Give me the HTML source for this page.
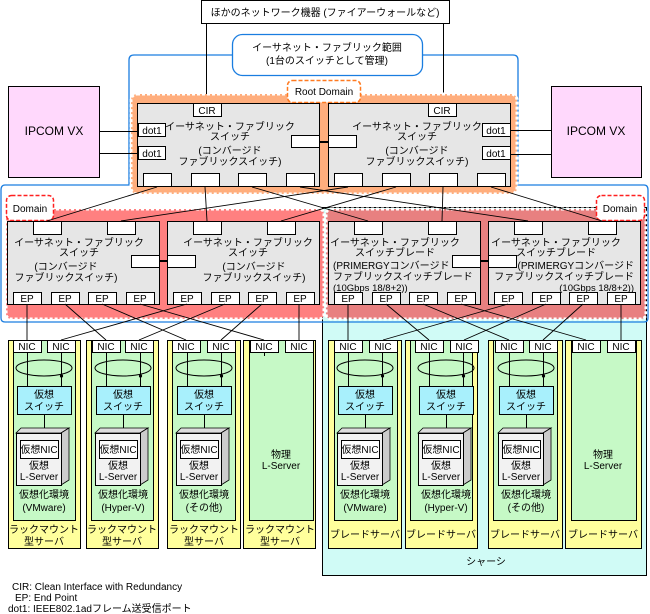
<!DOCTYPE html>
<html><head><meta charset="utf-8"><style>
html,body{margin:0;padding:0;background:#fff}
svg{display:block}
text{font-family:"Liberation Sans","Noto Sans CJK JP",sans-serif;font-size:10px;fill:#000}
</style></head><body>
<svg width="650" height="614" viewBox="0 0 650 614" xmlns="http://www.w3.org/2000/svg">
<!-- chassis -->
<rect x="322.5" y="207.5" width="324" height="368" fill="#d0fbf6" stroke="#000"/>
<!-- blue fabric range -->
<path d="M232,55 H134 Q129,55 129,60 V185 H5 Q1,185 1,190 V318 Q1,322 5,322 H644 Q648,322 648,318 V190 Q648,185 644,185 H518 V60 Q518,55 513,55 H422" fill="none" stroke="#1a7de0" stroke-width="1.3"/>
<!-- top box -->
<rect x="201.5" y="0.5" width="248" height="23" fill="#fff" stroke="#000"/>
<text x="325" y="16" text-anchor="middle">ほかのネットワーク機器 (ファイアーウォールなど)</text>
<line x1="206.5" y1="23" x2="206.5" y2="103" stroke="#000"/>
<line x1="443.5" y1="23" x2="443.5" y2="103" stroke="#000"/>
<!-- cloud label -->
<rect x="232.5" y="34.5" width="190" height="41" rx="10" fill="#fff" stroke="#1a7de0" stroke-width="1.3"/>
<text x="327" y="51" text-anchor="middle">イーサネット・ファブリック範囲</text>
<text x="327" y="64" text-anchor="middle">(1台のスイッチとして管理)</text>
<!-- root domain -->
<rect x="131" y="94" width="386" height="100" rx="6" fill="#ffae7d" stroke="#fff" stroke-width="3" stroke-dasharray="3 2"/>
<rect x="287.5" y="80.5" width="73" height="22" rx="5" fill="#fff" stroke="#ff7a20" stroke-width="1.5" stroke-dasharray="4 2"/>
<text x="324" y="95" text-anchor="middle">Root Domain</text>
<!-- IPCOM -->
<rect x="8.5" y="86.5" width="91" height="91" fill="#ffd8fc" stroke="#000"/>
<text x="54" y="135" text-anchor="middle" style="font-size:12px">IPCOM VX</text>
<rect x="551.5" y="86.5" width="90" height="91" fill="#ffd8fc" stroke="#000"/>
<text x="596" y="135" text-anchor="middle" style="font-size:12px">IPCOM VX</text>
<g stroke="#000"><line x1="99" y1="131.5" x2="138" y2="131.5"/><line x1="99" y1="153.5" x2="138" y2="153.5"/><line x1="510" y1="130.5" x2="551" y2="130.5"/><line x1="510" y1="154.5" x2="551" y2="154.5"/></g>
<!-- top switches -->
<g stroke="#000" fill="#fff">
<rect x="137.5" y="103.5" width="182" height="83" fill="#e6e6e6"/>
<rect x="328.5" y="103.5" width="182" height="83" fill="#e6e6e6"/>
<rect x="193.5" y="103.5" width="28" height="13"/>
<rect x="428.5" y="103.5" width="28" height="13"/>
<rect x="138.5" y="123.5" width="27" height="13"/><rect x="138.5" y="146.5" width="27" height="13"/>
<rect x="482.5" y="123.5" width="28" height="13"/><rect x="482.5" y="146.5" width="28" height="13"/>
<rect x="291.5" y="135.5" width="28" height="12"/><rect x="328.5" y="135.5" width="28" height="12"/>
<rect x="143.5" y="173.5" width="28" height="13"/><rect x="191.5" y="173.5" width="28" height="13"/><rect x="238.5" y="173.5" width="28" height="13"/><rect x="286.5" y="173.5" width="28" height="13"/>
<rect x="334.5" y="173.5" width="28" height="13"/><rect x="382.5" y="173.5" width="28" height="13"/><rect x="429.5" y="173.5" width="28" height="13"/><rect x="477.5" y="173.5" width="28" height="13"/>
</g>
<line x1="319" y1="142" x2="328" y2="142" stroke="#000" stroke-width="2"/>
<text x="207" y="114" text-anchor="middle">CIR</text><text x="442" y="114" text-anchor="middle">CIR</text>
<text x="152" y="134" text-anchor="middle">dot1</text><text x="152" y="157" text-anchor="middle">dot1</text>
<text x="496" y="134" text-anchor="middle">dot1</text><text x="496" y="157" text-anchor="middle">dot1</text>
<g text-anchor="middle">
<text x="230" y="130">イーサネット・ファブリック</text><text x="230" y="140">スイッチ</text><text x="230" y="154">(コンバージド</text><text x="230" y="165">ファブリックスイッチ)</text>
<text x="417" y="130">イーサネット・ファブリック</text><text x="417" y="140">スイッチ</text><text x="417" y="154">(コンバージド</text><text x="417" y="165">ファブリックスイッチ)</text>
</g>
<!-- domains -->
<rect x="6" y="209" width="318" height="110" rx="5" fill="#ff8080" stroke="#fff" stroke-width="3" stroke-dasharray="3 2"/>
<rect x="326" y="209" width="320" height="110" rx="5" fill="#e88080" stroke="#fff" stroke-width="3" stroke-dasharray="3 2"/>
<rect x="6.5" y="195.5" width="47" height="25" rx="5" fill="#fff" stroke="#ff2020" stroke-width="1.5" stroke-dasharray="4 2"/>
<text x="30" y="212" text-anchor="middle">Domain</text>
<rect x="596.5" y="195.5" width="48" height="25" rx="5" fill="#fff" stroke="#ff2020" stroke-width="1.5" stroke-dasharray="4 2"/>
<text x="620" y="212" text-anchor="middle">Domain</text>
<!-- links top->domain -->
<g stroke="#000" stroke-width="0.9">
<line x1="157" y1="187" x2="47" y2="221"/><line x1="205" y1="187" x2="207" y2="221"/><line x1="252" y1="187" x2="368" y2="221"/><line x1="300" y1="187" x2="528" y2="221"/>
<line x1="348" y1="187" x2="121" y2="221"/><line x1="396" y1="187" x2="281" y2="221"/><line x1="443" y1="187" x2="442" y2="221"/><line x1="491" y1="187" x2="602" y2="221"/>
</g>
<!-- domain switches -->
<g stroke="#000" fill="#fff">
<rect x="7.5" y="221.5" width="152" height="83" fill="#e6e6e6"/>
<rect x="167.5" y="221.5" width="152" height="83" fill="#e6e6e6"/>
<rect x="328.5" y="221.5" width="152" height="83" fill="#e6e6e6"/>
<rect x="488.5" y="221.5" width="152" height="83" fill="#e6e6e6"/>
<rect x="33.5" y="221.5" width="28" height="13"/><rect x="107.5" y="221.5" width="28" height="13"/>
<rect x="193.5" y="221.5" width="28" height="13"/><rect x="267.5" y="221.5" width="28" height="13"/>
<rect x="354.5" y="221.5" width="28" height="13"/><rect x="428.5" y="221.5" width="28" height="13"/>
<rect x="514.5" y="221.5" width="28" height="13"/><rect x="588.5" y="221.5" width="28" height="13"/>
<rect x="131.5" y="255.5" width="28" height="12"/><rect x="167.5" y="255.5" width="28" height="12"/>
<rect x="452.5" y="255.5" width="28" height="12"/><rect x="488.5" y="255.5" width="28" height="12"/>
<rect x="13.5" y="292.5" width="28" height="12"/><rect x="51.5" y="292.5" width="28" height="12"/><rect x="88.5" y="292.5" width="28" height="12"/><rect x="126.5" y="292.5" width="28" height="12"/>
<rect x="173.5" y="292.5" width="28" height="12"/><rect x="211.5" y="292.5" width="28" height="12"/><rect x="248.5" y="292.5" width="28" height="12"/><rect x="286.5" y="292.5" width="28" height="12"/>
<rect x="334.5" y="292.5" width="28" height="12"/><rect x="372.5" y="292.5" width="28" height="12"/><rect x="409.5" y="292.5" width="28" height="12"/><rect x="447.5" y="292.5" width="28" height="12"/>
<rect x="494.5" y="292.5" width="28" height="12"/><rect x="532.5" y="292.5" width="28" height="12"/><rect x="569.5" y="292.5" width="28" height="12"/><rect x="607.5" y="292.5" width="28" height="12"/>
</g>
<line x1="159" y1="261" x2="167" y2="261" stroke="#000" stroke-width="2"/>
<line x1="480" y1="261" x2="488" y2="261" stroke="#000" stroke-width="2"/>
<g text-anchor="middle">
<text x="27" y="302">EP</text><text x="65" y="302">EP</text><text x="102" y="302">EP</text><text x="140" y="302">EP</text>
<text x="187" y="302">EP</text><text x="225" y="302">EP</text><text x="262" y="302">EP</text><text x="300" y="302">EP</text>
<text x="348" y="302">EP</text><text x="386" y="302">EP</text><text x="423" y="302">EP</text><text x="461" y="302">EP</text>
<text x="508" y="302">EP</text><text x="546" y="302">EP</text><text x="583" y="302">EP</text><text x="621" y="302">EP</text>
<text x="79" y="246">イーサネット・ファブリック</text><text x="79" y="256">スイッチ</text><text x="66" y="270">(コンバージド</text><text x="66" y="281">ファブリックスイッチ)</text>
<text x="248" y="246">イーサネット・ファブリック</text><text x="248" y="256">スイッチ</text><text x="254" y="270">(コンバージド</text><text x="254" y="281">ファブリックスイッチ)</text>
<text x="395" y="246">イーサネット・ファブリック</text><text x="395" y="256">スイッチブレード</text>
<text x="556" y="246">イーサネット・ファブリック</text><text x="556" y="256">スイッチブレード</text>
</g>
<text x="333" y="269">(PRIMERGYコンバージド</text><text x="333" y="280">ファブリックスイッチブレード</text><text x="333" y="291" style="font-size:9.5px">(10Gbps 18/8+2))</text>
<g text-anchor="end"><text x="634" y="269">(PRIMERGYコンバージド</text><text x="634" y="280">ファブリックスイッチブレード</text><text x="634" y="291" style="font-size:9.5px">(10Gbps 18/8+2))</text></g>
<!-- EP->NIC -->
<g stroke="#000" stroke-width="0.9">
<line x1="27" y1="304" x2="27" y2="340"/><line x1="65" y1="304" x2="106" y2="340"/><line x1="102" y1="304" x2="186" y2="340"/><line x1="140" y1="304" x2="264" y2="340"/>
<line x1="187" y1="304" x2="61" y2="340"/><line x1="225" y1="304" x2="139" y2="340"/><line x1="262" y1="304" x2="221" y2="340"/><line x1="299" y1="304" x2="299" y2="340"/>
<line x1="348" y1="304" x2="348" y2="340"/><line x1="386" y1="304" x2="429" y2="340"/><line x1="423" y1="304" x2="509" y2="340"/><line x1="461" y1="304" x2="586" y2="340"/>
<line x1="508" y1="304" x2="383" y2="340"/><line x1="546" y1="304" x2="464" y2="340"/><line x1="583" y1="304" x2="543" y2="340"/><line x1="621" y1="304" x2="621" y2="340"/>
</g>
<!-- server columns -->
<g id="cols" stroke="#000">
<!-- generic column: yellow, green -->
<rect x="8.5" y="340.5" width="72" height="208" fill="#ffff9c"/><rect x="13.5" y="340.5" width="62" height="180" fill="#c6f9c6"/>
<rect x="86.5" y="340.5" width="72" height="208" fill="#ffff9c"/><rect x="91.5" y="340.5" width="62" height="180" fill="#c6f9c6"/>
<rect x="167.5" y="340.5" width="73" height="208" fill="#ffff9c"/><rect x="172.5" y="340.5" width="63" height="180" fill="#c6f9c6"/>
<rect x="243.5" y="340.5" width="72" height="208" fill="#ffff9c"/><rect x="249.5" y="340.5" width="64" height="180" fill="#c6f9c6"/>
<rect x="328.5" y="340.5" width="73" height="208" fill="#ffff9c"/><rect x="334.5" y="340.5" width="63" height="180" fill="#c6f9c6"/>
<rect x="405.5" y="340.5" width="72" height="208" fill="#ffff9c"/><rect x="410.5" y="340.5" width="62" height="180" fill="#c6f9c6"/>
<rect x="488.5" y="340.5" width="74" height="208" fill="#ffff9c"/><rect x="493.5" y="340.5" width="64" height="180" fill="#c6f9c6"/>
<rect x="565.5" y="340.5" width="76" height="208" fill="#ffff9c"/><rect x="571.5" y="340.5" width="65" height="180" fill="#c6f9c6"/>
<!-- NICs -->
<g fill="#fff">
<rect x="13.5" y="340.5" width="28" height="12"/><rect x="47.5" y="340.5" width="28" height="12"/>
<rect x="92.5" y="340.5" width="28" height="12"/><rect x="125.5" y="340.5" width="28" height="12"/>
<rect x="172.5" y="340.5" width="28" height="12"/><rect x="207.5" y="340.5" width="28" height="12"/>
<rect x="250.5" y="340.5" width="28" height="12"/><rect x="285.5" y="340.5" width="28" height="12"/>
<rect x="334.5" y="340.5" width="28" height="12"/><rect x="369.5" y="340.5" width="28" height="12"/>
<rect x="415.5" y="340.5" width="28" height="12"/><rect x="450.5" y="340.5" width="28" height="12"/>
<rect x="495.5" y="340.5" width="28" height="12"/><rect x="529.5" y="340.5" width="28" height="12"/>
<rect x="572.5" y="340.5" width="28" height="12"/><rect x="607.5" y="340.5" width="28" height="12"/>
</g>
</g>
<g text-anchor="middle">
<text x="27" y="350">NIC</text><text x="61" y="350">NIC</text><text x="106" y="350">NIC</text><text x="139" y="350">NIC</text>
<text x="186" y="350">NIC</text><text x="221" y="350">NIC</text><text x="264" y="350">NIC</text><text x="299" y="350">NIC</text>
<text x="348" y="350">NIC</text><text x="383" y="350">NIC</text><text x="429" y="350">NIC</text><text x="464" y="350">NIC</text>
<text x="509" y="350">NIC</text><text x="543" y="350">NIC</text><text x="586" y="350">NIC</text><text x="621" y="350">NIC</text>
</g>
<!-- virtual blocks: offsets at 8, 86, 167, 328, 405, 488 -->
<g id="v1" transform="translate(0,0)">
<line x1="27.5" y1="352" x2="27.5" y2="386" stroke="#000"/><line x1="61.5" y1="352" x2="61.5" y2="386" stroke="#000"/>
<ellipse cx="44" cy="368" rx="28" ry="8" fill="none" stroke="#000"/><circle cx="61.5" cy="376" r="1.6"/>
<rect x="17.5" y="386.5" width="54" height="28" fill="#a8f0fc" stroke="#000"/>
<line x1="44.5" y1="414" x2="44.5" y2="430" stroke="#000"/>
<polygon points="16,433 21,428 69,428 61,433" fill="#ddd" stroke="#000" stroke-width="0.8"/>
<polygon points="61,433 69,428 69,480 61,485" fill="#ccc" stroke="#000" stroke-width="0.8"/>
<rect x="16.5" y="433.5" width="45" height="52" fill="#f2f2f2" stroke="#000"/>
<rect x="20.5" y="440.5" width="38" height="18" fill="#fff" stroke="#000"/>
</g>
<g transform="translate(79,0)">
<line x1="27.5" y1="352" x2="27.5" y2="386" stroke="#000"/><line x1="61.5" y1="352" x2="61.5" y2="386" stroke="#000"/>
<ellipse cx="44" cy="368" rx="28" ry="8" fill="none" stroke="#000"/><circle cx="61.5" cy="376" r="1.6"/>
<rect x="17.5" y="386.5" width="54" height="28" fill="#a8f0fc" stroke="#000"/>
<line x1="44.5" y1="414" x2="44.5" y2="430" stroke="#000"/>
<polygon points="16,433 21,428 69,428 61,433" fill="#ddd" stroke="#000" stroke-width="0.8"/>
<polygon points="61,433 69,428 69,480 61,485" fill="#ccc" stroke="#000" stroke-width="0.8"/>
<rect x="16.5" y="433.5" width="45" height="52" fill="#f2f2f2" stroke="#000"/>
<rect x="20.5" y="440.5" width="38" height="18" fill="#fff" stroke="#000"/>
</g>
<g transform="translate(160,0)">
<line x1="27.5" y1="352" x2="27.5" y2="386" stroke="#000"/><line x1="61.5" y1="352" x2="61.5" y2="386" stroke="#000"/>
<ellipse cx="44" cy="368" rx="28" ry="8" fill="none" stroke="#000"/><circle cx="61.5" cy="376" r="1.6"/>
<rect x="17.5" y="386.5" width="54" height="28" fill="#a8f0fc" stroke="#000"/>
<line x1="44.5" y1="414" x2="44.5" y2="430" stroke="#000"/>
<polygon points="16,433 21,428 69,428 61,433" fill="#ddd" stroke="#000" stroke-width="0.8"/>
<polygon points="61,433 69,428 69,480 61,485" fill="#ccc" stroke="#000" stroke-width="0.8"/>
<rect x="16.5" y="433.5" width="45" height="52" fill="#f2f2f2" stroke="#000"/>
<rect x="20.5" y="440.5" width="38" height="18" fill="#fff" stroke="#000"/>
</g>
<g transform="translate(321,0)">
<line x1="27.5" y1="352" x2="27.5" y2="386" stroke="#000"/><line x1="61.5" y1="352" x2="61.5" y2="386" stroke="#000"/>
<ellipse cx="44" cy="368" rx="28" ry="8" fill="none" stroke="#000"/><circle cx="61.5" cy="376" r="1.6"/>
<rect x="17.5" y="386.5" width="54" height="28" fill="#a8f0fc" stroke="#000"/>
<line x1="44.5" y1="414" x2="44.5" y2="430" stroke="#000"/>
<polygon points="16,433 21,428 69,428 61,433" fill="#ddd" stroke="#000" stroke-width="0.8"/>
<polygon points="61,433 69,428 69,480 61,485" fill="#ccc" stroke="#000" stroke-width="0.8"/>
<rect x="16.5" y="433.5" width="45" height="52" fill="#f2f2f2" stroke="#000"/>
<rect x="20.5" y="440.5" width="38" height="18" fill="#fff" stroke="#000"/>
</g>
<g transform="translate(402,0)">
<line x1="27.5" y1="352" x2="27.5" y2="386" stroke="#000"/><line x1="61.5" y1="352" x2="61.5" y2="386" stroke="#000"/>
<ellipse cx="44" cy="368" rx="28" ry="8" fill="none" stroke="#000"/><circle cx="61.5" cy="376" r="1.6"/>
<rect x="17.5" y="386.5" width="54" height="28" fill="#a8f0fc" stroke="#000"/>
<line x1="44.5" y1="414" x2="44.5" y2="430" stroke="#000"/>
<polygon points="16,433 21,428 69,428 61,433" fill="#ddd" stroke="#000" stroke-width="0.8"/>
<polygon points="61,433 69,428 69,480 61,485" fill="#ccc" stroke="#000" stroke-width="0.8"/>
<rect x="16.5" y="433.5" width="45" height="52" fill="#f2f2f2" stroke="#000"/>
<rect x="20.5" y="440.5" width="38" height="18" fill="#fff" stroke="#000"/>
</g>
<g transform="translate(482,0)">
<line x1="27.5" y1="352" x2="27.5" y2="386" stroke="#000"/><line x1="61.5" y1="352" x2="61.5" y2="386" stroke="#000"/>
<ellipse cx="44" cy="368" rx="28" ry="8" fill="none" stroke="#000"/><circle cx="61.5" cy="376" r="1.6"/>
<rect x="17.5" y="386.5" width="54" height="28" fill="#a8f0fc" stroke="#000"/>
<line x1="44.5" y1="414" x2="44.5" y2="430" stroke="#000"/>
<polygon points="16,433 21,428 69,428 61,433" fill="#ddd" stroke="#000" stroke-width="0.8"/>
<polygon points="61,433 69,428 69,480 61,485" fill="#ccc" stroke="#000" stroke-width="0.8"/>
<rect x="16.5" y="433.5" width="45" height="52" fill="#f2f2f2" stroke="#000"/>
<rect x="20.5" y="440.5" width="38" height="18" fill="#fff" stroke="#000"/>
</g>
<!-- physical NIC lines -->
<g stroke="#000"><line x1="264.5" y1="352" x2="264.5" y2="356"/></g>
<!-- texts in columns -->
<g text-anchor="middle">
<text x="44" y="398">仮想</text><text x="44" y="410">スイッチ</text><text x="39" y="453">仮想NIC</text><text x="39" y="469">仮想</text><text x="39" y="480">L-Server</text><text x="44" y="498">仮想化環境</text><text x="44" y="511">(VMware)</text>
<text x="123" y="398">仮想</text><text x="123" y="410">スイッチ</text><text x="118" y="453">仮想NIC</text><text x="118" y="469">仮想</text><text x="118" y="480">L-Server</text><text x="123" y="498">仮想化環境</text><text x="123" y="511">(Hyper-V)</text>
<text x="204" y="398">仮想</text><text x="204" y="410">スイッチ</text><text x="199" y="453">仮想NIC</text><text x="199" y="469">仮想</text><text x="199" y="480">L-Server</text><text x="204" y="498">仮想化環境</text><text x="204" y="511">(その他)</text>
<text x="281" y="458">物理</text><text x="281" y="469">L-Server</text>
<text x="365" y="398">仮想</text><text x="365" y="410">スイッチ</text><text x="360" y="453">仮想NIC</text><text x="360" y="469">仮想</text><text x="360" y="480">L-Server</text><text x="365" y="498">仮想化環境</text><text x="365" y="511">(VMware)</text>
<text x="446" y="398">仮想</text><text x="446" y="410">スイッチ</text><text x="441" y="453">仮想NIC</text><text x="441" y="469">仮想</text><text x="441" y="480">L-Server</text><text x="446" y="498">仮想化環境</text><text x="446" y="511">(Hyper-V)</text>
<text x="526" y="398">仮想</text><text x="526" y="410">スイッチ</text><text x="521" y="453">仮想NIC</text><text x="521" y="469">仮想</text><text x="521" y="480">L-Server</text><text x="526" y="498">仮想化環境</text><text x="526" y="511">(その他)</text>
<text x="603" y="458">物理</text><text x="603" y="469">L-Server</text>
<text x="44" y="533">ラックマウント</text><text x="44" y="545">型サーバ</text>
<text x="122" y="533">ラックマウント</text><text x="122" y="545">型サーバ</text>
<text x="204" y="533">ラックマウント</text><text x="204" y="545">型サーバ</text>
<text x="280" y="533">ラックマウント</text><text x="280" y="545">型サーバ</text>
<text x="365" y="538">ブレードサーバ</text><text x="441" y="538">ブレードサーバ</text><text x="525" y="538">ブレードサーバ</text><text x="603" y="538">ブレードサーバ</text>
<text x="486" y="565">シャーシ</text>
</g>
<text x="12" y="590">CIR: Clean Interface with Redundancy</text>
<text x="15" y="601">EP: End Point</text>
<text x="8" y="612">dot1: IEEE802.1adフレーム送受信ポート</text>
</svg>
</body></html>
